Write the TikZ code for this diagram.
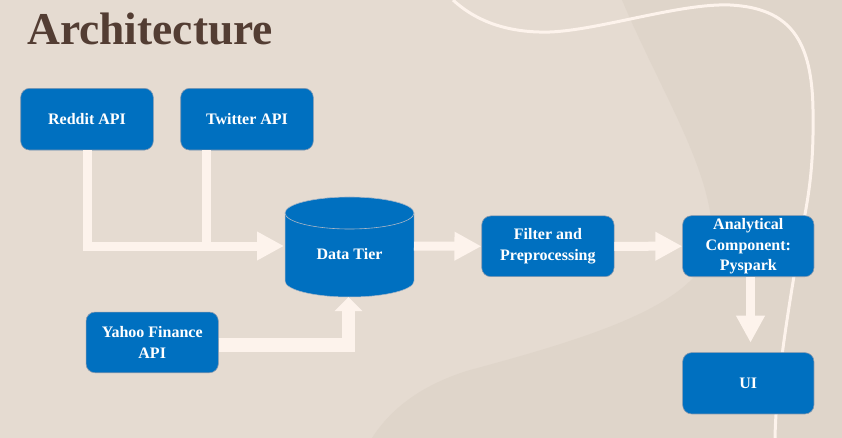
\documentclass[tikz,border=0pt]{standalone}
\usepackage{fontspec}
\setmainfont{Liberation Serif}
\usetikzlibrary{arrows.meta}
\definecolor{bgA}{HTML}{E5DBD1}
\definecolor{bgB}{HTML}{DFD5CA}
\definecolor{cream}{HTML}{FDF3EC}
\definecolor{boxblue}{HTML}{0070C0}
\definecolor{boxline}{HTML}{8497AE}
\definecolor{titlebrown}{HTML}{533D33}
\tikzset{
  box/.style={draw=boxline, line width=0.6pt, fill=boxblue, rounded corners=9pt,
    text=white, font=\bfseries\fontsize{16}{20.5}\selectfont, align=center, inner sep=0pt},
  flow/.style={draw=cream, line width=9pt},
  arr/.style={flow, -{Triangle[width=27pt,length=27pt]}},
  arrY/.style={draw=cream, line width=13.4pt, -{Triangle[width=27pt,length=14pt]}},
}
\begin{document}
\begin{tikzpicture}[x=1pt,y=-1pt]
\useasboundingbox (0,0) rectangle (842,438);
% background
\fill[bgA] (0,0) rectangle (842,438);
\fill[bgB] (622,0) .. controls (660,90) and (712,170) .. (712,235)
  .. controls (712,300) and (600,335) .. (470,370)
  .. controls (420,385) and (390,410) .. (372,438) -- (842,438) -- (842,0) -- cycle;
\draw[cream, line width=3pt] (453,0) .. controls (480,25) and (515,33) .. (550,32)
  .. controls (600,30) and (680,3) .. (730,5)
  .. controls (790,8) and (812,40) .. (813,110)
  .. controls (814,170) and (808,200) .. (800,240)
  .. controls (790,300) and (776,380) .. (775,438);
% title
\node[anchor=base west, inner sep=0pt, text=titlebrown, font=\bfseries\fontsize{45.5}{50}\selectfont] (title) at (27,45) {Architecture};
% cylinder
\fill[boxblue] (285,213) rectangle (414,281);
\fill[boxblue] (349.5,281) ellipse [x radius=64.5pt, y radius=16pt];
\draw[boxline!70, line width=0.5pt] (285,213) -- (285,281)
  arc[start angle=180, end angle=360, x radius=64.5pt, y radius=16pt] -- (414,213);
\filldraw[fill=boxblue, draw=boxline!70, line width=0.6pt] (349.5,213) ellipse [x radius=64.5pt, y radius=16pt];
\node[text=white, font=\bfseries\fontsize{16}{20.5}\selectfont, inner sep=0pt] (dt) at (349.5,254.5) {Data Tier};
\coordinate (dtL) at (284,246);
\coordinate (dtR) at (414,246);
\coordinate (dtB) at (348.5,297);
% boxes
\node[box, minimum width=132.6pt, minimum height=61.7pt] (reddit) at (87,119.2) {Reddit API};
\node[box, minimum width=132.6pt, minimum height=61.7pt] (twitter) at (247,119.2) {Twitter API};
\node[box, minimum width=132.3pt, minimum height=60.7pt] (yahoo) at (152.2,342.4) {Yahoo Finance\\API};
\node[box, minimum width=132.3pt, minimum height=60.7pt] (filter) at (547.9,246.3) {Filter and\\Preprocessing};
\node[box, minimum width=131.3pt, minimum height=61pt] (anal) at (748.3,246.2) {Analytical\\Component:\\Pyspark};
\node[box, minimum width=131.3pt, minimum height=61.3pt] (ui) at (748.3,383.3) {UI};
\coordinate (uiT) at (750.5,342.7);
\coordinate (yY) at (0,345);
% connectors
\draw[arr] (reddit.south) |- (dtL);
\draw[flow] (twitter.south -| 206.7,0) -- (206.7,246);
\draw[arrY] (yahoo.east |- yY) -| (dtB);
\draw[arr] (dtR) -- (filter.west);
\draw[arr] (filter.east) -- (anal.west);
\draw[arr] (anal.south -| uiT) -- (uiT);
\end{tikzpicture}
\end{document}
